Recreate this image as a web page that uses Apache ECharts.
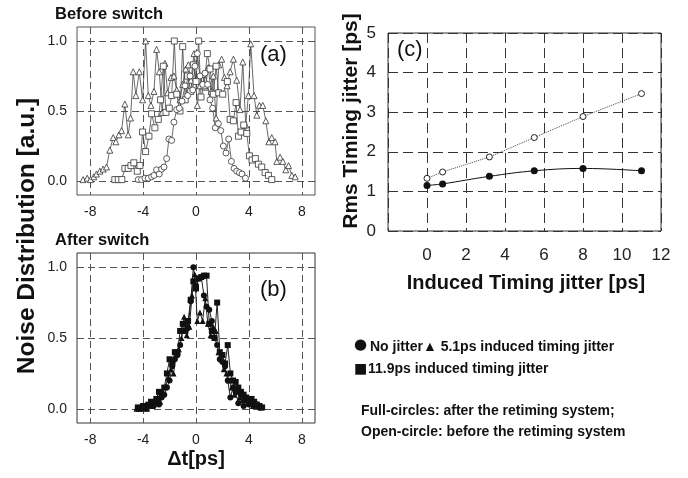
<!DOCTYPE html>
<html><head><meta charset="utf-8">
<script src="https://cdn.jsdelivr.net/npm/echarts@6/dist/echarts.min.js"></script>
<style>html,body{margin:0;padding:0;background:#fff}#c{width:688px;height:478px}</style>
</head><body><div id="c"></div>
<script>
// Panel (a): before switch  [Δt ps, noise a.u.]
const aTriangles = [[-8.54,0.01],[-8.23,0.02],[-7.98,0.01],[-7.73,0.03],[-7.53,0.05],[-7.27,0.07],[-7.02,0.085],[-6.77,0.10],[-6.52,0.22],[-6.26,0.31],[-6.06,0.28],[-5.83,0.33],[-5.63,0.36],[-5.38,0.55],[-5.13,0.33],[-4.95,0.45],[-4.75,0.78],[-4.55,0.61],[-4.29,0.78],[-4.04,0.58],[-3.81,1.0],[-3.61,0.61],[-3.41,0.54],[-3.18,0.64],[-2.98,0.94],[-2.78,0.78],[-2.55,0.49],[-2.35,0.84],[-2.15,0.63],[-1.89,0.74],[-1.67,0.75],[-1.46,0.65],[-1.21,0.58],[-1.01,0.69],[-0.78,0.80],[-0.58,0.83],[-0.38,0.72],[-0.15,0.91],[0.10,0.54],[0.30,0.68],[0.51,0.76],[0.71,0.67],[0.93,0.81],[1.14,0.64],[1.31,0.75],[1.52,0.45],[1.72,0.83],[1.94,0.87],[2.15,0.74],[2.35,0.68],[2.58,0.78],[2.83,0.87],[3.08,0.72],[3.33,0.51],[3.54,0.85],[3.76,0.40],[3.96,0.61],[4.14,0.98],[4.39,0.61],[4.60,0.47],[4.80,0.54],[5.05,0.54],[5.28,0.43],[5.51,0.28],[5.73,0.31],[5.98,0.28],[6.11,0.14],[6.36,0.17],[6.57,0.14],[6.79,0.08],[7.0,0.11],[7.25,0.04],[7.5,0.03]];
const aSquares = [[-6.14,0.01],[-5.88,0.01],[-5.61,0.01],[-5.38,0.09],[-5.13,0.09],[-4.92,0.11],[-4.70,0.13],[-4.44,0.07],[-4.24,0.11],[-4.04,0.35],[-3.81,0.21],[-3.56,0.32],[-3.36,0.48],[-3.11,0.38],[-2.85,0.44],[-2.68,0.58],[-2.47,0.82],[-2.27,0.49],[-2.02,0.52],[-1.84,0.61],[-1.64,1.0],[-1.46,0.62],[-1.21,0.50],[-1.01,0.96],[-0.81,0.58],[-0.63,0.75],[-0.40,0.64],[-0.20,0.83],[0.0,0.71],[0.20,1.0],[0.38,0.60],[0.61,0.68],[0.86,0.91],[1.06,0.80],[1.31,0.62],[1.52,0.82],[1.72,0.63],[2.02,0.62],[2.37,0.71],[2.58,0.44],[2.83,0.43],[3.03,0.56],[3.21,0.32],[3.41,0.35],[3.61,0.40],[3.84,0.34],[4.04,0.18],[4.24,0.15],[4.49,0.16],[4.72,0.12],[4.97,0.10],[5.23,0.06],[5.48,0.04],[5.73,0.01]];
const aCircles = [[-4.37,0.01],[-4.12,0.01],[-3.86,0.02],[-3.61,0.02],[-3.36,0.03],[-3.18,0.04],[-2.98,0.08],[-2.78,0.05],[-2.6,0.085],[-2.42,0.10],[-2.22,0.16],[-2.05,0.30],[-1.84,0.29],[-1.67,0.42],[-1.46,0.51],[-1.26,0.52],[-1.06,0.57],[-0.83,0.68],[-0.63,0.61],[-0.45,0.75],[-0.25,0.65],[-0.08,0.82],[0.10,0.91],[0.30,0.75],[0.51,0.69],[0.68,0.77],[0.88,0.69],[1.06,0.58],[1.26,0.52],[1.46,0.38],[1.69,0.41],[1.87,0.36],[2.07,0.25],[2.27,0.20],[2.47,0.30],[2.68,0.14],[2.88,0.09],[3.08,0.07],[3.28,0.06],[3.48,0.05],[3.74,0.02]];

// Panel (b): after switch
const bCircles = [[-4.4,0.0],[-4.2,0.01],[-4.0,0.01],[-3.8,0.0],[-3.6,0.02],[-3.4,0.03],[-3.2,0.02],[-3.0,0.05],[-2.8,0.03],[-2.6,0.08],[-2.4,0.1],[-2.2,0.15],[-2.0,0.2],[-1.8,0.3],[-1.6,0.35],[-1.4,0.38],[-1.2,0.45],[-1.0,0.55],[-0.8,0.6],[-0.6,0.57],[-0.4,0.76],[-0.2,1.0],[0.0,0.87],[0.2,0.92],[0.4,0.93],[0.6,0.8],[0.8,0.72],[1.0,0.7],[1.2,0.62],[1.4,0.5],[1.6,0.45],[1.8,0.35],[2.0,0.33],[2.2,0.3],[2.4,0.2],[2.6,0.08],[2.8,0.15],[3.0,0.12],[3.2,0.04],[3.4,0.1],[3.6,0.02],[3.8,0.06],[4.0,0.03],[4.2,0.05],[4.4,0.02],[4.6,0.03],[4.8,0.01]];
const bTriangles = [[-4.5,0.0],[-4.3,0.0],[-4.1,0.01],[-3.9,0.01],[-3.7,0.0],[-3.5,0.03],[-3.3,0.02],[-3.1,0.06],[-2.9,0.08],[-2.7,0.05],[-2.5,0.12],[-2.3,0.16],[-2.1,0.22],[-1.9,0.28],[-1.7,0.25],[-1.5,0.38],[-1.3,0.42],[-1.1,0.5],[-0.9,0.65],[-0.7,0.52],[-0.5,0.58],[-0.3,0.8],[-0.1,0.95],[0.1,0.62],[0.3,0.68],[0.5,0.62],[0.7,0.78],[0.9,0.6],[1.1,0.52],[1.3,0.58],[1.5,0.55],[1.7,0.4],[1.9,0.35],[2.1,0.28],[2.3,0.25],[2.5,0.2],[2.7,0.15],[2.9,0.1],[3.1,0.12],[3.3,0.08],[3.5,0.06],[3.7,0.09],[3.9,0.04],[4.1,0.05],[4.3,0.02],[4.5,0.03],[4.7,0.02],[4.9,0.01]];
const bSquares = [[-4.4,0.01],[-4.2,0.0],[-4.0,0.02],[-3.8,0.01],[-3.6,0.03],[-3.4,0.05],[-3.2,0.04],[-3.0,0.07],[-2.8,0.12],[-2.6,0.1],[-2.4,0.15],[-2.2,0.25],[-2.0,0.35],[-1.8,0.32],[-1.6,0.4],[-1.4,0.4],[-1.2,0.55],[-1.0,0.6],[-0.8,0.55],[-0.6,0.62],[-0.4,0.77],[-0.2,0.9],[0.0,0.85],[0.2,0.92],[0.4,0.93],[0.6,0.94],[0.8,0.94],[1.0,0.6],[1.2,0.55],[1.4,0.5],[1.6,0.75],[1.8,0.4],[2.0,0.38],[2.2,0.32],[2.4,0.45],[2.6,0.25],[2.8,0.2],[3.0,0.19],[3.2,0.15],[3.4,0.12],[3.6,0.1],[3.8,0.08],[4.0,0.06],[4.2,0.07],[4.4,0.05],[4.6,0.03],[4.8,0.02],[5.0,0.01]];

// Panel (c)
const cInduced = [0, 0.8, 3.2, 5.5, 8, 11];
const cBefore = [1.33, 1.49, 1.87, 2.36, 2.89, 3.47];
const cAfter = [1.15, 1.19, 1.38, 1.52, 1.58, 1.52];

const dtTicks = [-8, -4, 0, 4, 8];
const noiseTicks = [0, 0.5, 1.0];

const FONT = 'Liberation Sans, Arial, sans-serif';
const chart = echarts.init(document.getElementById('c'), null, {renderer: 'canvas'});

function dtAxis(gi) {
  return {
    type: 'value', gridIndex: gi, min: -9, max: 9,
    axisLine: {show: false},
    axisTick: {show: true, customValues: dtTicks, length: 5, lineStyle: {color: '#444'}},
    axisLabel: {customValues: dtTicks, fontSize: 14, color: '#222', margin: 10, fontFamily: FONT},
    splitLine: {show: true, lineStyle: {type: [7, 4], color: '#555', width: 1}}
  };
}
function noiseAxis(gi) {
  return {
    type: 'value', gridIndex: gi, min: -0.1, max: 1.1,
    axisLine: {show: false},
    axisTick: {show: false, customValues: noiseTicks},
    axisLabel: {customValues: noiseTicks, fontSize: 14, color: '#222', margin: 10, fontFamily: FONT,
      formatter: v => v.toFixed(1)},
    splitLine: {show: true, lineStyle: {type: [7, 4], color: '#555', width: 1}}
  };
}
function hollow(name, data, symbol, gi) {
  return {
    name, type: 'line', xAxisIndex: gi, yAxisIndex: gi, data, symbol, symbolSize: 6,
    showSymbol: true, animation: false,
    lineStyle: {color: '#444', width: 0.8},
    itemStyle: {color: '#fff', borderColor: '#333', borderWidth: 0.8}
  };
}
function filled(name, data, symbol, gi, size) {
  return {
    name, type: 'line', xAxisIndex: gi, yAxisIndex: gi, data, symbol, symbolSize: size,
    showSymbol: true, animation: false,
    lineStyle: {color: '#222', width: 1},
    itemStyle: {color: '#111', borderColor: '#111', borderWidth: 0}
  };
}

const txt = (text, x, y, font, opts) => Object.assign({
  type: 'text', x, y, silent: true,
  style: Object.assign({text, font, fill: '#111', textAlign: 'left', textVerticalAlign: 'middle', verticalAlign: 'middle'}, opts || {})
});

chart.setOption({
  animation: false,
  backgroundColor: '#fff',
  grid: [
    {left: 77, top: 27, width: 238, height: 168, show: true, borderColor: '#555', borderWidth: 1, backgroundColor: 'transparent'},
    {left: 77, top: 253, width: 238, height: 170, show: true, borderColor: '#333', borderWidth: 1, backgroundColor: 'transparent'},
    {left: 388, top: 33, width: 273, height: 198, show: true, borderColor: '#333', borderWidth: 1, backgroundColor: 'transparent'}
  ],
  xAxis: [
    dtAxis(0), dtAxis(1),
    {type: 'value', gridIndex: 2, min: -2, max: 12, interval: 2,
     axisLine: {show: false}, axisTick: {show: false},
     axisLabel: {fontSize: 17, color: '#222', margin: 16, fontFamily: FONT, formatter: v => v < 0 ? '' : String(v)},
     splitLine: {show: true, lineStyle: {type: [10, 5], color: '#333', width: 1}}}
  ],
  yAxis: [
    noiseAxis(0), noiseAxis(1),
    {type: 'value', gridIndex: 2, min: 0, max: 5, interval: 1,
     axisLine: {show: false}, axisTick: {show: false},
     axisLabel: {fontSize: 17, color: '#222', margin: 12, fontFamily: FONT},
     splitLine: {show: true, lineStyle: {type: [10, 5], color: '#333', width: 1}}}
  ],
  series: [
    hollow('a-tri', aTriangles, 'triangle', 0),
    hollow('a-sq', aSquares, 'rect', 0),
    hollow('a-circ', aCircles, 'circle', 0),
    filled('b-tri', bTriangles, 'triangle', 1, 6),
    filled('b-sq', bSquares, 'rect', 1, 6),
    filled('b-circ', bCircles, 'circle', 1, 6),
    {name: 'before', type: 'line', xAxisIndex: 2, yAxisIndex: 2, data: cInduced.map((x, i) => [x, cBefore[i]]),
     symbol: 'circle', symbolSize: 6, animation: false,
     lineStyle: {color: '#444', width: 1, type: 'dotted'},
     itemStyle: {color: '#fff', borderColor: '#222', borderWidth: 1}},
    {name: 'after', type: 'line', xAxisIndex: 2, yAxisIndex: 2, data: cInduced.map((x, i) => [x, cAfter[i]]),
     symbol: 'circle', symbolSize: 7, smooth: 0.4, animation: false,
     lineStyle: {color: '#111', width: 1},
     itemStyle: {color: '#111', borderWidth: 0}}
  ],
  graphic: [
    txt('Before switch', 55, 14, 'bold 16.5px ' + FONT),
    txt('After switch', 55, 240, 'bold 16.5px ' + FONT),
    txt('(a)', 260, 55, '22px ' + FONT),
    txt('(b)', 260, 290, '22px ' + FONT),
    txt('(c)', 397, 50, '22px ' + FONT),
    {type: 'text', x: 27, y: 236, rotation: Math.PI / 2, silent: true,
     style: {text: 'Noise Distribution [a.u.]', font: 'bold 24.5px ' + FONT, fill: '#111', textAlign: 'center', textVerticalAlign: 'middle', verticalAlign: 'middle'}},
    txt('\u0394t[ps]', 196, 459, 'bold 20px ' + FONT, {textAlign: 'center'}),
    {type: 'text', x: 351, y: 121, rotation: Math.PI / 2, silent: true,
     style: {text: 'Rms Timing jitter [ps]', font: 'bold 21px ' + FONT, fill: '#111', textAlign: 'center', textVerticalAlign: 'middle', verticalAlign: 'middle'}},
    txt('Induced Timing jitter [ps]', 526, 283, 'bold 20px ' + FONT, {textAlign: 'center'}),
    txt('\u25CF', 354, 345, 'bold 15px DejaVu Sans'),
    txt('No jitter\u25B2 5.1ps induced timing jitter', 370, 347, 'bold 14px ' + FONT),
    txt('\u25A0', 354, 369, 'bold 14px DejaVu Sans'),
    txt('11.9ps induced timing jitter', 368, 369, 'bold 14px ' + FONT),
    txt('Full-circles: after the retiming system;', 361, 411, 'bold 14px ' + FONT),
    txt('Open-circle: before the retiming system', 361, 432, 'bold 14px ' + FONT)
  ]
});
</script></body></html>
